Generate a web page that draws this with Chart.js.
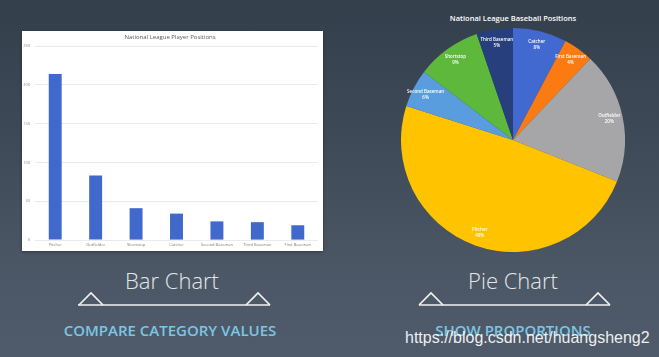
<!DOCTYPE html>
<html>
<head>
<meta charset="utf-8">
<script src="https://cdn.jsdelivr.net/npm/chart.js@4.4.1/dist/chart.umd.min.js"></script>
<style>
  html, body { margin:0; padding:0; }
  body { width:659px; height:357px; overflow:hidden; position:relative;
    background: linear-gradient(to bottom, #343f4c 0%, #3f4a58 40%, #4b5765 75%, #4f5b6a 100%);
    font-family: "Open Sans", "Noto Sans", sans-serif; }
  .abs { position:absolute; }
  #barBox { left:22px; top:31px; width:301px; height:220px; background:#fff; box-shadow:0 1px 3px rgba(0,0,0,0.35); }
  #pieBox { left:401px; top:28px; width:224px; height:224px; }
  .big { color:#e3e6ea; font-weight:300; font-size:22px; line-height:22px; text-align:center; width:200px; white-space:nowrap; }
  .sub { color:#7cc6e3; font-weight:600; font-size:15px; line-height:15px; text-align:center; width:260px; white-space:nowrap; }
  #pieTitle { left:413px; top:13px; width:200px; text-align:center; color:#fff; font-weight:600; font-size:7.5px; line-height:10px; white-space:nowrap; }
  #wm { left:405px; top:330px; font-family:"Liberation Sans", Arial, sans-serif; font-size:16px; line-height:16px; color:rgba(255,255,255,0.92); white-space:nowrap; }
</style>
</head>
<body>
<svg class="abs" style="left:0;top:0" width="659" height="357">
  <g fill="none" stroke="#f2f2f2" stroke-width="1.6" stroke-linejoin="miter">
    <line x1="78" y1="305" x2="270" y2="305"/>
    <polyline points="79,305 91,293 103,305"/>
    <polyline points="246,305 258,293 270,305"/>
    <line x1="419" y1="305" x2="610" y2="305"/>
    <polyline points="419,305 431,293 443,305"/>
    <polyline points="586,305 598,293 610,305"/>
  </g>
</svg>
<div id="barBox" class="abs"><canvas id="bar"></canvas></div>
<div id="pieTitle" class="abs">National League Baseball Positions</div>
<div id="pieBox" class="abs"><canvas id="pie"></canvas></div>
<div class="abs big" style="left:72px;top:269px;">Bar Chart</div>
<div class="abs big" style="left:413px;top:269px;">Pie Chart</div>
<div class="abs sub" style="left:40px;top:323px;">COMPARE CATEGORY VALUES</div>
<div class="abs sub" style="left:383px;top:323px;">SHOW PROPORTIONS</div>
<div id="wm" class="abs">https://blog.csdn.net/huangsheng2</div>
<script>
const barCategories = ["Pitcher", "Outfielder", "Shortstop", "Catcher", "Second Baseman", "Third Baseman", "First Baseman"];
const barValues = [214, 83, 41, 34, 24, 23, 19];
const yTickValues = [0, 50, 100, 150, 200, 250];

const pieCategories = ["Catcher", "First Baseman", "Outfielder", "Pitcher", "Second Baseman", "Shortstop", "Third Baseman"];
const pieValues = [34, 19, 83, 214, 24, 41, 23];
const piePercentLabels = ["8%", "4%", "20%", "49%", "6%", "9%", "5%"];
const pieColors = ["#4169cf", "#fb7a12", "#a6a6a9", "#ffc300", "#5a9ddf", "#5db83c", "#273f7c"];

new Chart(document.getElementById('bar'), {
  type: 'bar',
  data: { labels: barCategories, datasets: [{ data: barValues, backgroundColor: '#4169cc', barPercentage: 0.32, categoryPercentage: 1 }] },
  options: {
    responsive: true, maintainAspectRatio: false, animation: false, devicePixelRatio: 1,
    layout: { padding: { left: 0, right: 5, top: 0, bottom: 0 } },
    plugins: {
      legend: { display: false }, tooltip: { enabled: false },
      title: { display: true, text: 'National League Player Positions', color: '#595959',
        font: { family: 'Open Sans', size: 6, weight: 'normal' }, padding: { top: 3, bottom: 4.8 } }
    },
    scales: {
      x: {
        grid: { display: false, drawTicks: false }, border: { display: false },
        ticks: { color: '#7a7a7a', font: { family: 'Open Sans', size: 4 }, padding: 2, maxRotation: 0, autoSkip: false },
        afterFit: s => { s.height = 11; }
      },
      y: {
        min: 0, max: 250,
        afterBuildTicks: s => { s.ticks = yTickValues.map(v => ({ value: v })); },
        grid: { color: '#e6e6e6', lineWidth: 0.8, drawTicks: false }, border: { display: false },
        ticks: { color: '#8a8a8a', font: { family: 'Open Sans', size: 4 }, padding: 5 },
        afterFit: s => { s.width = 13; }
      }
    }
  }
});

const pieLabelPlugin = {
  id: 'pieLabels',
  afterDatasetsDraw(chart) {
    const ctx = chart.ctx;
    const meta = chart.getDatasetMeta(0);
    ctx.save();
    ctx.fillStyle = '#ffffff';
    ctx.textAlign = 'center';
    ctx.textBaseline = 'middle';
    ctx.font = '600 4.5px "Open Sans"';
    meta.data.forEach((arc, i) => {
      const mid = (arc.startAngle + arc.endAngle) / 2;
      const r = arc.outerRadius * 0.88;
      const x = arc.x + Math.cos(mid) * r;
      const y = arc.y + Math.sin(mid) * r;
      ctx.fillText(pieCategories[i], x, y - 3);
      ctx.fillText(piePercentLabels[i], x, y + 3);
    });
    ctx.restore();
  }
};

new Chart(document.getElementById('pie'), {
  type: 'pie',
  data: { labels: pieCategories, datasets: [{ data: pieValues, backgroundColor: pieColors, borderWidth: 0 }] },
  options: {
    responsive: true, maintainAspectRatio: false, animation: false, devicePixelRatio: 1,
    layout: { padding: 0 },
    plugins: { legend: { display: false }, tooltip: { enabled: false } }
  },
  plugins: [pieLabelPlugin]
});
</script>
</body>
</html>
